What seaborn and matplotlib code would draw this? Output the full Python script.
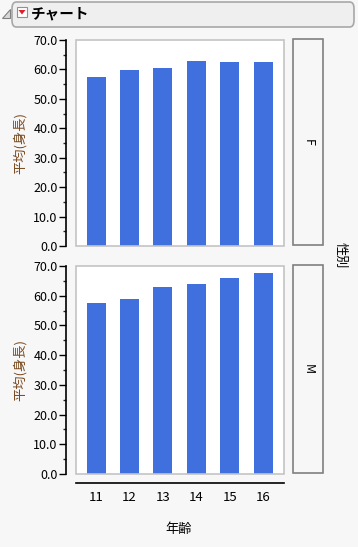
import matplotlib
matplotlib.use("Agg")
import matplotlib.pyplot as plt
from matplotlib.patches import Rectangle, FancyBboxPatch, Polygon
import seaborn as sns
import pandas as pd

ages = ['11', '12', '13', '14', '15', '16']
height_F = [57.4, 59.8, 60.5, 62.9, 62.5, 62.5]
height_M = [57.4, 59.0, 62.8, 64.1, 66.1, 67.8]
sexes = ['F', 'M']
yticks = [0, 10, 20, 30, 40, 50, 60, 70]

df = pd.DataFrame({
    'age': ages * 2,
    'height': height_F + height_M,
    'sex': ['F'] * len(ages) + ['M'] * len(ages),
})

sns.set_style('ticks')
plt.rcParams['font.family'] = ['Noto Sans CJK JP', 'DejaVu Sans']

W, H = 358, 547
BG = '#f7f7f7'
BAR = '#4070dd'
fig = plt.figure(figsize=(W / 100, H / 100), dpi=100, facecolor=BG)


def fx(x):
    return x / W


def fy(y):
    return 1 - y / H


def pax(x0, y0, x1, y1):
    return [fx(x0), fy(y1), fx(x1) - fx(x0), fy(y0) - fy(y1)]


panels = [(40, 246), (266, 474)]
axes = []
for i, (sex, (t, b)) in enumerate(zip(sexes, panels)):
    ax = fig.add_axes(pax(76, t, 284, b))
    ax.set_facecolor('white')
    sub = df[df['sex'] == sex]
    sns.barplot(data=sub, x='age', y='height', order=ages, color=BAR,
                saturation=1, width=0.57, linewidth=0, errorbar=None, ax=ax)
    ax.set_xlim(-0.6, 5.62)
    ax.set_ylim(0, 70)
    ax.set_yticks(yticks)
    ax.set_yticklabels([f'{v:.1f}' for v in yticks])
    ax.set_yticks([v + 5 for v in yticks[:-1]], minor=True)
    for s in ['top', 'right', 'bottom']:
        ax.spines[s].set_visible(False)
    ax.spines['left'].set_position(('outward', 7.2))
    ax.spines['left'].set_color('black')
    ax.spines['left'].set_linewidth(1.2)
    ax.tick_params(axis='y', which='major', length=5, width=1, pad=1,
                   labelsize=9, colors='black')
    ax.tick_params(axis='y', which='minor', length=2.5, width=1)
    ax.set_ylabel('')
    ax.set_xlabel('')
    ax.add_patch(Rectangle((0, 0), 1, 1, transform=ax.transAxes, fill=False,
                           ec='#c4c4c4', lw=1.2, clip_on=False, zorder=5))
    if i == 0:
        ax.tick_params(axis='x', length=0, labelbottom=False)
    else:
        ax.spines['bottom'].set_visible(True)
        ax.spines['bottom'].set_position(('outward', 6.5))
        ax.spines['bottom'].set_color('black')
        ax.spines['bottom'].set_linewidth(1.2)
        ax.tick_params(axis='x', length=0, pad=5.5, labelsize=9.5, colors='black')
    # y label
    fig.text(fx(20), fy((t + b) / 2), '平均(身長)', rotation=90,
             ha='center', va='center', fontsize=9.5, color='#7a4a20')
    # strip box
    fig.add_artist(Rectangle((fx(293), fy(b - 1)), fx(323) - fx(293),
                             fy(t - 1) - fy(b - 1), transform=fig.transFigure,
                             fill=True, fc=BG, ec='#808080', lw=1.2))
    fig.text(fx(308), fy((t + b) / 2 - 1), sex, rotation=-90,
             ha='center', va='center', fontsize=9, color='black')
    axes.append(ax)

fig.text(fx(340), fy(255), '性別', rotation=-90, ha='center', va='center',
         fontsize=9.5, color='black')
fig.text(fx(179), fy(529), '年齢', ha='center', va='center',
         fontsize=9.5, color='black')

# header
fig.add_artist(FancyBboxPatch((fx(12), fy(27)), fx(354) - fx(12), fy(2) - fy(27),
                              boxstyle='round,pad=0,rounding_size=0.012',
                              transform=fig.transFigure, fc='#efefef',
                              ec='#a8a8a8', lw=1.2))
fig.add_artist(Polygon([(fx(10), fy(9)), (fx(10), fy(18)), (fx(1.5), fy(18))],
                       closed=True, transform=fig.transFigure, fc='#d8d8d8',
                       ec='#808080', lw=0.8))
fig.add_artist(Rectangle((fx(17), fy(17)), fx(27) - fx(17), fy(7) - fy(17),
                         transform=fig.transFigure, fc='white', ec='#909090',
                         lw=0.8))
fig.add_artist(Polygon([(fx(18.5), fy(10)), (fx(25.5), fy(10)), (fx(22), fy(14.5))],
                       closed=True, transform=fig.transFigure, fc='#e0202a',
                       ec='none'))
fig.text(fx(30.5), fy(13.5), 'チャート', ha='left', va='center', fontsize=10.5,
         fontweight='bold', color='black')

fig.savefig('out.png', dpi=100, facecolor=BG)
